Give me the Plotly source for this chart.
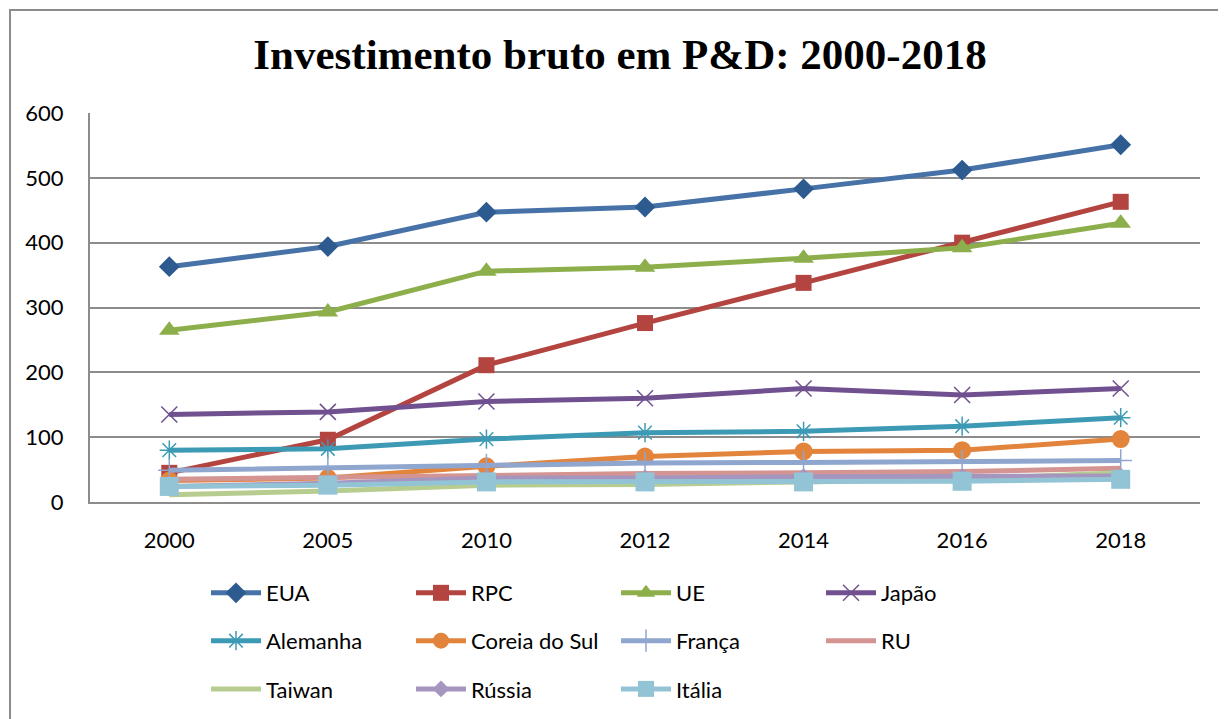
import plotly.graph_objects as go

years = ["2000", "2005", "2010", "2012", "2014", "2016", "2018"]
eua = [363, 394, 447, 455, 483, 512, 551]
rpc = [45, 96, 211, 276, 338, 400, 463]
ue = [265, 293, 356, 362, 376, 392, 430]
japao = [135, 139, 155, 160, 175, 165, 175]
alemanha = [80, 82, 97, 107, 109, 117, 130]
coreia = [33, 37, 55, 70, 78, 80, 97]
franca = [49, 53, 57, 60, 61, 63, 64]
ru = [35, 38, 42, 44, 45, 47, 52]
taiwan = [11, 17, 26, 27, 31, 35, 45]
russia = [24, 29, 37, 37, 39, 39, 40]
italia = [24, 26, 31, 31, 31, 32, 35]

series = [
    ("EUA", eua, "#4672A8", "diamond", 16, "#2D5B8F", "legend"),
    ("RPC", rpc, "#B3443F", "square", 16, "#B3443F", "legend"),
    ("UE", ue, "#8DAF4B", "triangle-up", 18, "#8DAF4B", "legend"),
    ("Japão", japao, "#70508F", "x-thin-open", 16, "#70508F", "legend"),
    ("Alemanha", alemanha, "#3C9AB4", "asterisk-open", 16, "#3C9AB4", "legend2"),
    ("Coreia do Sul", coreia, "#E2843B", "circle", 18, "#E2843B", "legend2"),
    ("França", franca, "#8FA6CF", "cross-thin-open", 16, "#8FA6CF", "legend2"),
    ("RU", ru, "#D49492", None, 0, "#D49492", "legend2"),
    ("Taiwan", taiwan, "#B6CD8F", None, 0, "#B6CD8F", "legend3"),
    ("Rússia", russia, "#A596BF", "diamond", 13, "#A596BF", "legend3"),
    ("Itália", italia, "#93C4D6", "square", 19, "#93C4D6", "legend3"),
]

fig = go.Figure()
for name, vals, col, sym, size, mcol, lg in series:
    if sym is None:
        fig.add_trace(go.Scatter(x=years, y=vals, name=name, mode="lines",
                                 line=dict(color=col, width=5), legend=lg))
    else:
        marker = dict(symbol=sym, size=size, color=mcol)
        if sym.endswith("open"):
            marker["line"] = dict(color=mcol, width=1.5)
        fig.add_trace(go.Scatter(x=years, y=vals, name=name, mode="lines+markers",
                                 line=dict(color=col, width=5), marker=marker, legend=lg))

L, T, W, H = 82, 105, 1110, 389

leg_common = dict(orientation="h", xanchor="left", yanchor="middle", x=116 / W,
                  font=dict(family="Lato, Open Sans, sans-serif", size=22, color="#000"),
                  bgcolor="rgba(0,0,0,0)", itemwidth=50, entrywidth=140,
                  traceorder="normal")

fig.update_layout(
    width=1226, height=719,
    margin=dict(l=L, r=1226 - L - W, t=T, b=719 - T - H),
    paper_bgcolor="white", plot_bgcolor="white",
    title=dict(text="<b>Investimento bruto em P&D: 2000-2018</b>",
               x=(620 - 90) / W, xref="paper", xanchor="center",
               y=1 - 46 / 719, yanchor="middle",
               font=dict(family="Liberation Serif, Times New Roman, serif", size=43, color="#000")),
    showlegend=True,
    legend=dict(leg_common, y=-0.234),
    legend2=dict(leg_common, y=-0.357),
    legend3=dict(leg_common, y=-0.481),
    xaxis=dict(type="category", range=[-0.5, 6.5], showgrid=False, showline=True, mirror=False,
               linecolor="#8C8C8C", linewidth=2, ticks="outside", ticklen=18,
               tickcolor="rgba(0,0,0,0)",
               tickfont=dict(family="Lato, Open Sans, sans-serif", size=22, color="#000")),
    yaxis=dict(range=[0, 600], dtick=100, showgrid=True, gridcolor="#8C8C8C", gridwidth=2,
               showline=True, mirror=False, linecolor="#8C8C8C", linewidth=2,
               zeroline=False, ticks="outside", ticklen=20, tickcolor="rgba(0,0,0,0)",
               tickfont=dict(family="Lato, Open Sans, sans-serif", size=22, color="#000")),
    shapes=[dict(type="rect", xref="paper", yref="paper",
                 x0=(10 - 90) / W, x1=(1222 - 90) / W,
                 y0=(502 - 730) / H, y1=(502 - 10) / H,
                 line=dict(color="#8C8C8C", width=2), fillcolor="rgba(0,0,0,0)", layer="below")],
)

fig.write_html("out.html")
